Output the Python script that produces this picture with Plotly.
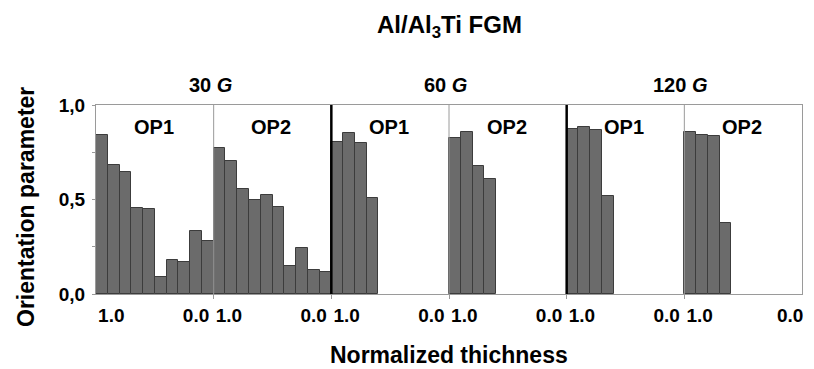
import plotly.graph_objects as go

# ---- data ----
speeds = ["30 <i>G</i>", "60 <i>G</i>", "120 <i>G</i>"]
params = ["OP1", "OP2"]
op1_30 = [0.84, 0.68, 0.645, 0.455, 0.45, 0.09, 0.18, 0.17, 0.335, 0.28]
op2_30 = [0.77, 0.705, 0.555, 0.50, 0.525, 0.46, 0.15, 0.245, 0.125, 0.115]
op1_60 = [0.805, 0.85, 0.80, 0.51]
op2_60 = [0.825, 0.855, 0.675, 0.61]
op1_120 = [0.875, 0.885, 0.87, 0.52]
op2_120 = [0.855, 0.84, 0.835, 0.375]
x_tick_text = ["1.0", "0.0"]
y_tick_vals = [0, 0.5, 1.0]
y_tick_text = ["0,0", "0,5", "1,0"]
y_minor_vals = [0.25, 0.75]

panels = [op1_30, op2_30, op1_60, op2_60, op1_120, op2_120]
SLOTS = 10  # bar slots per half-panel

FONT = "Liberation Sans, Arial, sans-serif"
BAR_FILL = "#6b6b6b"
BAR_EDGE = "#3c3c3c"
FRAME = "#9a9a9a"

W, H = 814, 369
L, R, T, B = 96, 12, 105, 75
PH = H - T - B
PW = W - L - R


def py(pixel_y):
    """pixel row -> paper y"""
    return (H - B - pixel_y) / PH


def px(pixel_x):
    return (pixel_x - L) / PW


fig = go.Figure()
for p, vals in enumerate(panels):
    xs = [p * SLOTS + i + 0.5 for i in range(len(vals))]
    fig.add_trace(go.Bar(
        x=xs, y=vals, width=1.0,
        marker=dict(color=BAR_FILL, line=dict(color=BAR_EDGE, width=1)),
        showlegend=False, hoverinfo="x+y",
    ))

tickvals, ticktext = [], []
for p in range(len(panels)):
    tickvals.append(p * SLOTS + 1.3)
    ticktext.append(x_tick_text[0])
    end = p * SLOTS + 8.5 if p < len(panels) - 1 else p * SLOTS + 9.0
    tickvals.append(end)
    ticktext.append(x_tick_text[1])

shapes = []
for p in range(1, len(panels)):
    xb = p * SLOTS
    if p % 2 == 0:
        shapes.append(dict(type="line", xref="x", yref="y", x0=xb, x1=xb,
                           y0=-0.015, y1=1, line=dict(color="black", width=2.5)))
    else:
        shapes.append(dict(type="line", xref="x", yref="y", x0=xb, x1=xb,
                           y0=0, y1=1, line=dict(color=FRAME, width=1)))

bold = lambda s: dict(size=s, family=FONT, color="black", weight="bold")

annotations = []
annotations.append(dict(x=0.5, xref="paper", y=py(26), yref="paper", xanchor="center",
                        yanchor="middle", showarrow=False,
                        text="Al/Al<sub>3</sub>Ti FGM", font=bold(24)))
for k, s in enumerate(speeds):
    annotations.append(dict(x=(2 * k + 1) * SLOTS - 0.3, xref="x", y=py(85), yref="paper",
                            xanchor="center", yanchor="middle", showarrow=False,
                            text=s, font=bold(20)))
for p in range(len(panels)):
    annotations.append(dict(x=p * SLOTS + 4.9, y=0.885, xref="x", yref="y",
                            xanchor="center", yanchor="middle", showarrow=False,
                            text=params[p % 2], font=bold(20)))
annotations.append(dict(x=px(449), xref="paper", y=py(355), yref="paper", yanchor="middle",
                        xanchor="center", showarrow=False, text="Normalized thichness",
                        font=bold(23)))
annotations.append(dict(x=px(26), xref="paper", y=py(207), yref="paper", xanchor="center",
                        yanchor="middle", showarrow=False, textangle=-90,
                        text="Orientation parameter", font=bold(23)))

fig.update_layout(
    width=W, height=H,
    margin=dict(l=L, r=R, t=T, b=B, autoexpand=False),
    paper_bgcolor="white", plot_bgcolor="white",
    bargap=0,
    shapes=shapes,
    annotations=annotations,
    xaxis=dict(range=[0, len(panels) * SLOTS], showgrid=False, zeroline=False,
               automargin=False,
               showline=True, mirror=True, linecolor=FRAME, linewidth=1,
               tickmode="array", tickvals=tickvals, ticktext=ticktext, ticks="",
               ticklabelstandoff=4, tickfont=bold(19),
               minor=dict(tickmode="array", tickvals=[10, 20, 30, 40, 50],
                          ticks="outside", ticklen=4, tickcolor=FRAME, showgrid=False)),
    yaxis=dict(range=[0, 1], showgrid=False, zeroline=False, automargin=False,
               showline=True, mirror=True, linecolor=FRAME, linewidth=1,
               tickmode="array", tickvals=y_tick_vals, ticktext=y_tick_text,
               ticks="outside", ticklen=3, tickcolor=FRAME, ticklabelstandoff=3,
               tickfont=bold(19),
               minor=dict(tickmode="array", tickvals=y_minor_vals, ticks="outside",
                          ticklen=3, tickcolor=FRAME, showgrid=False)),
)

fig.write_html(
    "out.html",
    config={"displayModeBar": False},
    post_script="document.body.style.margin='0';document.body.style.overflow='hidden';",
)
